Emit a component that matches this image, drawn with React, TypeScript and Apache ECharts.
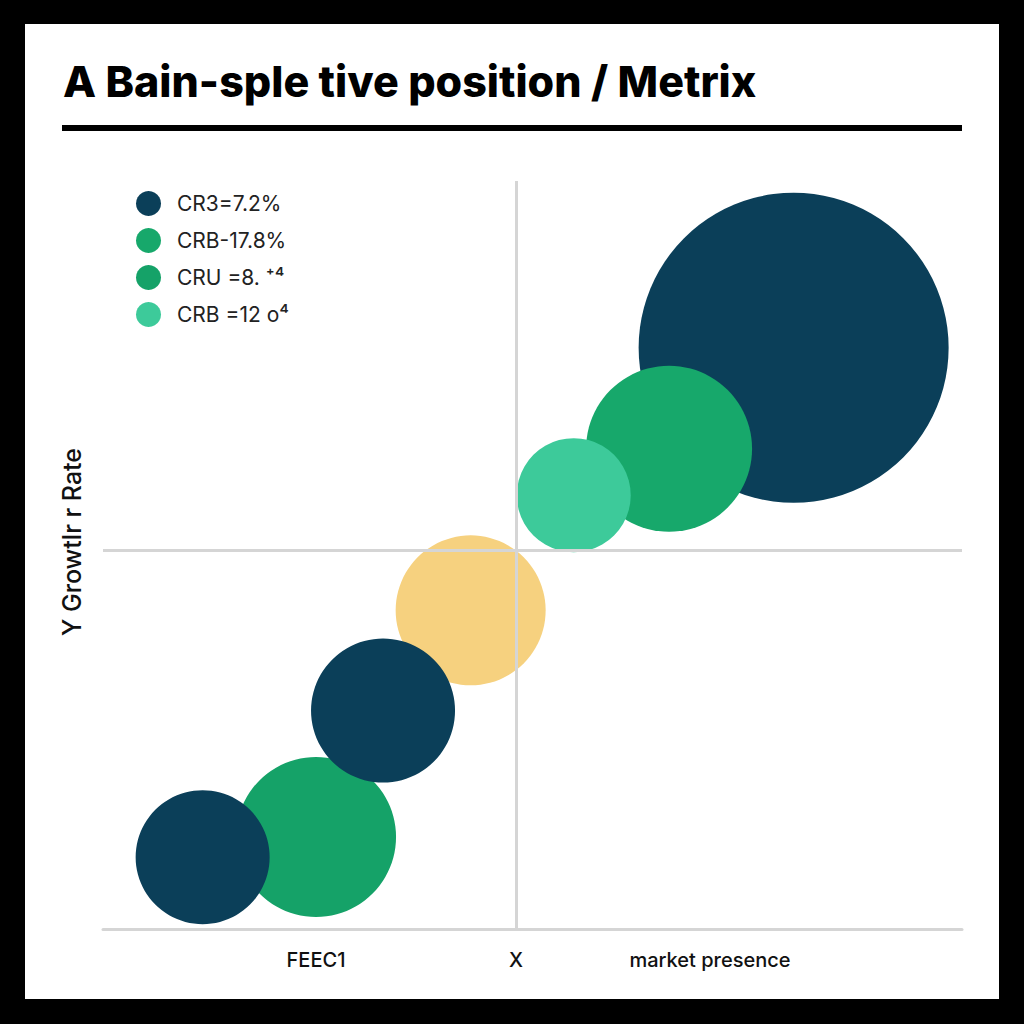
import { useEffect, useRef } from "react";
import * as echarts from "echarts";

const TITLE = "A Bain-sple tive position / Metrix";
const Y_LABEL = "Y Growtlr r Rate";
const X_LABELS = ["FEEC1", "X", "market presence"];

const legendNames = ["CR3=7.2%", "CRB-17.8%", "CRU =8. ⁺⁴", "CRB =12 o⁴"];

// bubbles, drawn in this order (later ones on top)
const bubbleGroup = ["CR3=7.2%", "CRB-17.8%", "CRB =12 o⁴", "CRU =8. ⁺⁴", "CR3=7.2%", "Other", "CR3=7.2%"];
const bubbleX = [80.4, 65.9, 54.8, 24.8, 11.6, 42.8, 32.6];
const bubbleY = [77.7, 64.2, 58.0, 12.3, 9.6, 42.6, 29.2];
const bubbleSize = [310, 166, 114, 160, 134, 150, 144];

const groupColor: { [key: string]: string } = {
  "CR3=7.2%": "#0b3f59",
  "CRB-17.8%": "#17a86b",
  "CRU =8. ⁺⁴": "#15a268",
  "CRB =12 o⁴": "#3dca9a",
  Other: "#f6d17f"
};

const xDivider = 48.1;
const yDivider = 50.6;

export default function App() {
  const chartRef = useRef<HTMLDivElement>(null);

  useEffect(() => {
    document.body.style.margin = "0";
    if (!chartRef.current) return;
    const chart = echarts.init(chartRef.current, null, { renderer: "svg" });

    const lineStyle = { color: "#d5d5d5", width: 3, type: "solid" as const };

    const bubbleSeries = bubbleX.map((x, i) => ({
      name: bubbleGroup[i],
      type: "scatter",
      z: 2,
      symbol: "circle",
      symbolSize: bubbleSize[i],
      itemStyle: { color: groupColor[bubbleGroup[i]], opacity: 1 },
      emphasis: { disabled: true },
      data: [[x, bubbleY[i]]]
    }));

    chart.setOption({
      animation: false,
      backgroundColor: "#ffffff",
      textStyle: { fontFamily: "Inter" },
      title: {
        text: TITLE,
        left: 33,
        top: 30,
        textStyle: { fontFamily: "Inter", fontWeight: 800, fontSize: 43, color: "#000" }
      },
      legend: {
        data: legendNames,
        orient: "vertical",
        left: 111,
        top: 167,
        padding: 0,
        icon: "circle",
        itemWidth: 25,
        itemHeight: 25,
        itemGap: 12,
        selectedMode: false,
        textStyle: { fontSize: 21, color: "#222", fontFamily: "Inter", padding: [0, 0, 0, 11] }
      },
      grid: { left: 78, right: 37, top: 157, bottom: 70 },
      xAxis: {
        type: "value",
        min: 0,
        max: 100,
        axisLine: { show: true, lineStyle },
        axisTick: { show: false },
        axisLabel: { show: false },
        splitLine: { show: false }
      },
      yAxis: {
        type: "value",
        min: 0,
        max: 100,
        axisLine: { show: false },
        axisTick: { show: false },
        axisLabel: { show: false },
        splitLine: { show: false }
      },
      graphic: [
        { type: "rect", shape: { x: 37, y: 101, width: 900, height: 6 }, style: { fill: "#000" } },
        {
          type: "text",
          x: 47,
          y: 518,
          rotation: Math.PI / 2,
          style: {
            text: Y_LABEL,
            fontFamily: "Inter",
            fontWeight: 500,
            fontSize: 25,
            fill: "#111",
            align: "center",
            verticalAlign: "middle"
          }
        },
        ...X_LABELS.map((t, i) => ({
          type: "text",
          x: [291, 491, 685][i],
          y: 936,
          style: {
            text: t,
            fontFamily: "Inter",
            fontWeight: 500,
            fontSize: 20,
            fill: "#111",
            align: "center",
            verticalAlign: "middle"
          }
        }))
      ],
      series: [
        {
          name: "dividers",
          type: "scatter",
          z: 1,
          data: [],
          markLine: {
            silent: true,
            symbol: "none",
            label: { show: false },
            lineStyle,
            data: [{ xAxis: xDivider }, { yAxis: yDivider }]
          }
        },
        ...bubbleSeries
      ]
    });

    return () => {
      chart.dispose();
    };
  }, []);

  return (
    <div style={{ width: 1024, height: 1024, background: "#000", position: "relative" }}>
      <div
        ref={chartRef}
        style={{ position: "absolute", left: 25, top: 24, width: 974, height: 975, background: "#fff" }}
      />
    </div>
  );
}
